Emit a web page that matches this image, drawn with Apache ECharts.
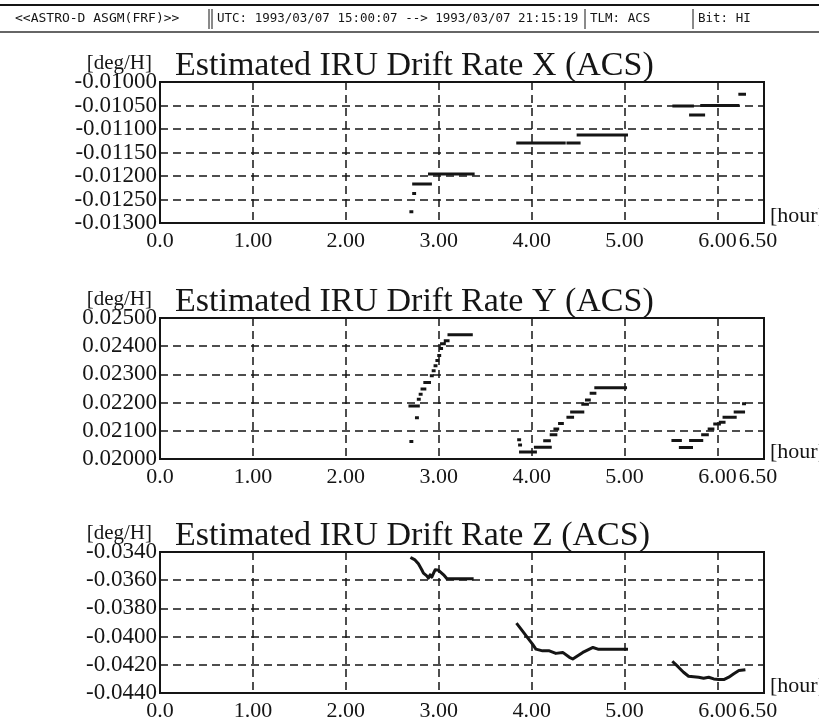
<!DOCTYPE html>
<html>
<head>
<meta charset="utf-8">
<script src="https://cdn.jsdelivr.net/npm/echarts@6/dist/echarts.min.js"></script>
<style>
  html, body { margin: 0; padding: 0; background: #fff; }
  #chart { width: 819px; height: 721px; }
</style>
</head>
<body>
<div id="chart"></div>
<script>
// ---- Axis ticks ----
const xTickValues = [0, 1, 2, 3, 4, 5, 6, 6.5];
const xTickLabels = ['0.0', '1.00', '2.00', '3.00', '4.00', '5.00', '6.00', '6.50'];

const yTickValuesX = [-0.013, -0.0125, -0.012, -0.0115, -0.011, -0.0105, -0.010];
const yTickLabelsX = ['-0.01300', '-0.01250', '-0.01200', '-0.01150', '-0.01100', '-0.01050', '-0.01000'];

const yTickValuesY = [0.020, 0.021, 0.022, 0.023, 0.024, 0.025];
const yTickLabelsY = ['0.02000', '0.02100', '0.02200', '0.02300', '0.02400', '0.02500'];

const yTickValuesZ = [-0.044, -0.042, -0.040, -0.038, -0.036, -0.034];
const yTickLabelsZ = ['-0.0440', '-0.0420', '-0.0400', '-0.0380', '-0.0360', '-0.0340'];

// ---- Drift estimates: runs of constant value [startHour, endHour, deg/H] ----
const driftRunsX = [
  [2.70, 2.71, -0.01276],
  [2.73, 2.74, -0.01237],
  [2.73, 2.91, -0.01217],
  [2.90, 3.37, -0.01196],
  [3.85, 4.35, -0.01130],
  [4.39, 4.51, -0.01130],
  [4.50, 5.02, -0.01113],
  [5.53, 5.73, -0.01051],
  [5.71, 5.85, -0.01070],
  [5.83, 6.22, -0.01050],
  [6.24, 6.29, -0.01026]
];

const driftRunsY = [
  [2.70, 2.71, 0.02062],
  [2.76, 2.77, 0.02146],
  [2.69, 2.78, 0.02188],
  [2.78, 2.79, 0.02212],
  [2.80, 2.81, 0.02230],
  [2.82, 2.85, 0.02248],
  [2.85, 2.90, 0.02271],
  [2.92, 2.93, 0.02295],
  [2.94, 2.95, 0.02313],
  [2.96, 2.97, 0.02331],
  [2.98, 2.99, 0.02349],
  [3.00, 3.01, 0.02367],
  [3.02, 3.03, 0.02392],
  [3.03, 3.06, 0.02409],
  [3.07, 3.10, 0.02419],
  [3.11, 3.35, 0.02441],
  [3.86, 3.87, 0.02068],
  [3.87, 3.88, 0.02050],
  [3.88, 4.04, 0.02025],
  [4.04, 4.20, 0.02042],
  [4.14, 4.19, 0.02065],
  [4.21, 4.26, 0.02086],
  [4.25, 4.28, 0.02106],
  [4.30, 4.33, 0.02126],
  [4.39, 4.44, 0.02148],
  [4.43, 4.55, 0.02167],
  [4.55, 4.60, 0.02194],
  [4.59, 4.62, 0.02209],
  [4.64, 4.68, 0.02233],
  [4.69, 5.01, 0.02253],
  [5.52, 5.60, 0.02066],
  [5.60, 5.72, 0.02041],
  [5.71, 5.83, 0.02066],
  [5.84, 5.89, 0.02086],
  [5.91, 5.95, 0.02106],
  [5.97, 6.02, 0.02124],
  [6.03, 6.07, 0.02130],
  [6.07, 6.19, 0.02148],
  [6.19, 6.28, 0.02167],
  [6.28, 6.29, 0.02196]
];

// ---- Z estimates: continuous traces [hour, deg/H] ----
const driftTraceZ1 = [
  [2.709, -0.03444], [2.744, -0.03456], [2.781, -0.03484], [2.817, -0.03526],
  [2.835, -0.03550], [2.853, -0.03538], [2.871, -0.03569], [2.889, -0.03585],
  [2.907, -0.03562], [2.925, -0.03578], [2.944, -0.03550], [2.961, -0.03526],
  [2.998, -0.03530], [3.015, -0.03541], [3.052, -0.03562], [3.088, -0.03590],
  [3.359, -0.03590]
];
const driftTraceZ2 = [
  [3.846, -0.03913], [3.900, -0.03960], [3.955, -0.04007], [4.009, -0.04054],
  [4.045, -0.04089], [4.117, -0.04101], [4.190, -0.04101], [4.260, -0.04119],
  [4.334, -0.04112], [4.406, -0.04147], [4.442, -0.04159], [4.496, -0.04136],
  [4.550, -0.04112], [4.605, -0.04094], [4.659, -0.04077], [4.713, -0.04089],
  [5.020, -0.04089]
];
const driftTraceZ3 = [
  [5.525, -0.04182], [5.580, -0.04217], [5.634, -0.04253], [5.688, -0.04281],
  [5.796, -0.04288], [5.850, -0.04295], [5.905, -0.04288], [5.959, -0.04300],
  [6.013, -0.04305], [6.067, -0.04305], [6.121, -0.04288], [6.175, -0.04264],
  [6.230, -0.04241], [6.284, -0.04236]
];

const titles = [
  'Estimated IRU Drift Rate X (ACS)',
  'Estimated IRU Drift Rate Y (ACS)',
  'Estimated IRU Drift Rate Z (ACS)'
];

// ---- helpers ----
function runsToLine(runs) {
  const out = [];
  runs.forEach(r => {
    out.push([r[0], r[2]]);
    out.push([r[1], r[2]]);
    out.push([r[1], null]);
  });
  return out;
}
function tracesToLine(traces) {
  const out = [];
  traces.forEach(t => {
    t.forEach(p => out.push(p));
    out.push([t[t.length - 1][0], null]);
  });
  return out;
}

const INK = '#151515';
const SERIF = '"Liberation Serif", "DejaVu Serif", serif';
const MONO = '"DejaVu Sans Mono", "Liberation Mono", monospace';

const panels = [
  { top: 82,  titleTop: 49,    yMin: -0.013, yMax: -0.010, yStep: 0.0005, ticks: yTickValuesX, labels: yTickLabelsX, data: runsToLine(driftRunsX) },
  { top: 318, titleTop: 285.5, yMin: 0.020,  yMax: 0.025,  yStep: 0.001,  ticks: yTickValuesY, labels: yTickLabelsY, data: runsToLine(driftRunsY) },
  { top: 552, titleTop: 519.5, yMin: -0.044, yMax: -0.034, yStep: 0.002,  ticks: yTickValuesZ, labels: yTickLabelsZ, data: tracesToLine([driftTraceZ1, driftTraceZ2, driftTraceZ3]) }
];

const dashed = { type: [8, 5], width: 1.5, color: INK };

const option = {
  animation: false,
  backgroundColor: '#ffffff',
  title: panels.map((p, i) => ({
    text: titles[i],
    left: 175,
    top: p.titleTop,
    padding: 0,
    textStyle: { fontFamily: SERIF, fontSize: 34, fontWeight: 'normal', color: INK }
  })),
  grid: panels.map(p => ({
    left: 160, top: p.top, width: 604, height: 141,
    containLabel: false, outerBoundsMode: 'none',
    show: true, borderColor: INK, borderWidth: 2, backgroundColor: 'transparent'
  })),
  xAxis: panels.map((p, i) => ({
    type: 'value', gridIndex: i, min: 0, max: 6.5, interval: 1,
    name: '[hour]', nameLocation: 'end', nameGap: 6, nameMoveOverlap: false,
    nameTextStyle: { fontFamily: SERIF, fontSize: 22, color: INK, align: 'left', verticalAlign: 'bottom', lineHeight: 14 },
    axisLine: { show: true, lineStyle: { color: INK, width: 2 } },
    axisTick: { show: false },
    splitLine: { show: true, lineStyle: dashed },
    axisLabel: {
      customValues: xTickValues,
      margin: 7,
      fontFamily: SERIF, fontSize: 22, color: INK,
      // the last label sits tight against its neighbour, nudged left
      formatter: v => {
        const k = xTickValues.findIndex(t => Math.abs(t - v) < 1e-9);
        if (k < 0) return '';
        return k === xTickValues.length - 1 ? '{last|' + xTickLabels[k] + '}' : xTickLabels[k];
      },
      rich: {
        last: { fontFamily: SERIF, fontSize: 22, color: INK, padding: [0, 12, 0, 0] }
      }
    }
  })),
  yAxis: panels.map((p, i) => ({
    type: 'value', gridIndex: i, min: p.yMin, max: p.yMax, interval: p.yStep,
    name: '[deg/H]', nameLocation: 'end', nameGap: 19, nameMoveOverlap: false,
    nameTextStyle: { fontFamily: SERIF, fontSize: 21, color: INK, align: 'right', verticalAlign: 'middle', padding: [0, 8, 0, 0] },
    axisLine: { show: true, lineStyle: { color: INK, width: 2 } },
    axisTick: { show: false },
    splitLine: { show: true, lineStyle: dashed },
    axisLabel: {
      customValues: p.ticks,
      margin: 3,
      fontFamily: SERIF, fontSize: 23, color: INK,
      formatter: v => {
        const k = p.ticks.findIndex(t => Math.abs(t - v) < 1e-9);
        return k >= 0 ? p.labels[k] : '';
      }
    }
  })),
  series: panels.map((p, i) => ({
    type: 'line', xAxisIndex: i, yAxisIndex: i,
    data: p.data, connectNulls: false,
    symbol: 'none', showSymbol: false,
    lineStyle: { color: INK, width: 3, cap: 'square', join: 'round' },
    clip: true, silent: true
  })),
  graphic: [
    { type: 'line', shape: { x1: 0, y1: 5, x2: 819, y2: 5 }, style: { stroke: INK, lineWidth: 2 } },
    { type: 'line', shape: { x1: 0, y1: 32, x2: 819, y2: 32 }, style: { stroke: '#333', lineWidth: 1.5 } },
    { type: 'line', shape: { x1: 209, y1: 9, x2: 209, y2: 29 }, style: { stroke: INK, lineWidth: 1 } },
    { type: 'line', shape: { x1: 212, y1: 9, x2: 212, y2: 29 }, style: { stroke: INK, lineWidth: 1 } },
    { type: 'line', shape: { x1: 585, y1: 9, x2: 585, y2: 29 }, style: { stroke: INK, lineWidth: 1 } },
    { type: 'line', shape: { x1: 693, y1: 9, x2: 693, y2: 29 }, style: { stroke: INK, lineWidth: 1 } },
    { type: 'text', x: 15, y: 19, style: { text: '<<ASTRO-D ASGM(FRF)>>', font: '13px ' + MONO, fill: INK, textVerticalAlign: 'middle' } },
    { type: 'text', x: 217, y: 19, style: { text: 'UTC: 1993/03/07 15:00:07 --> 1993/03/07 21:15:19', font: '12.5px ' + MONO, fill: INK, textVerticalAlign: 'middle' } },
    { type: 'text', x: 590, y: 19, style: { text: 'TLM: ACS', font: '12.5px ' + MONO, fill: INK, textVerticalAlign: 'middle' } },
    { type: 'text', x: 698, y: 19, style: { text: 'Bit: HI', font: '12.5px ' + MONO, fill: INK, textVerticalAlign: 'middle' } }
  ]
};

const chart = echarts.init(document.getElementById('chart'), null, { renderer: 'canvas' });
chart.setOption(option);
</script>
</body>
</html>
